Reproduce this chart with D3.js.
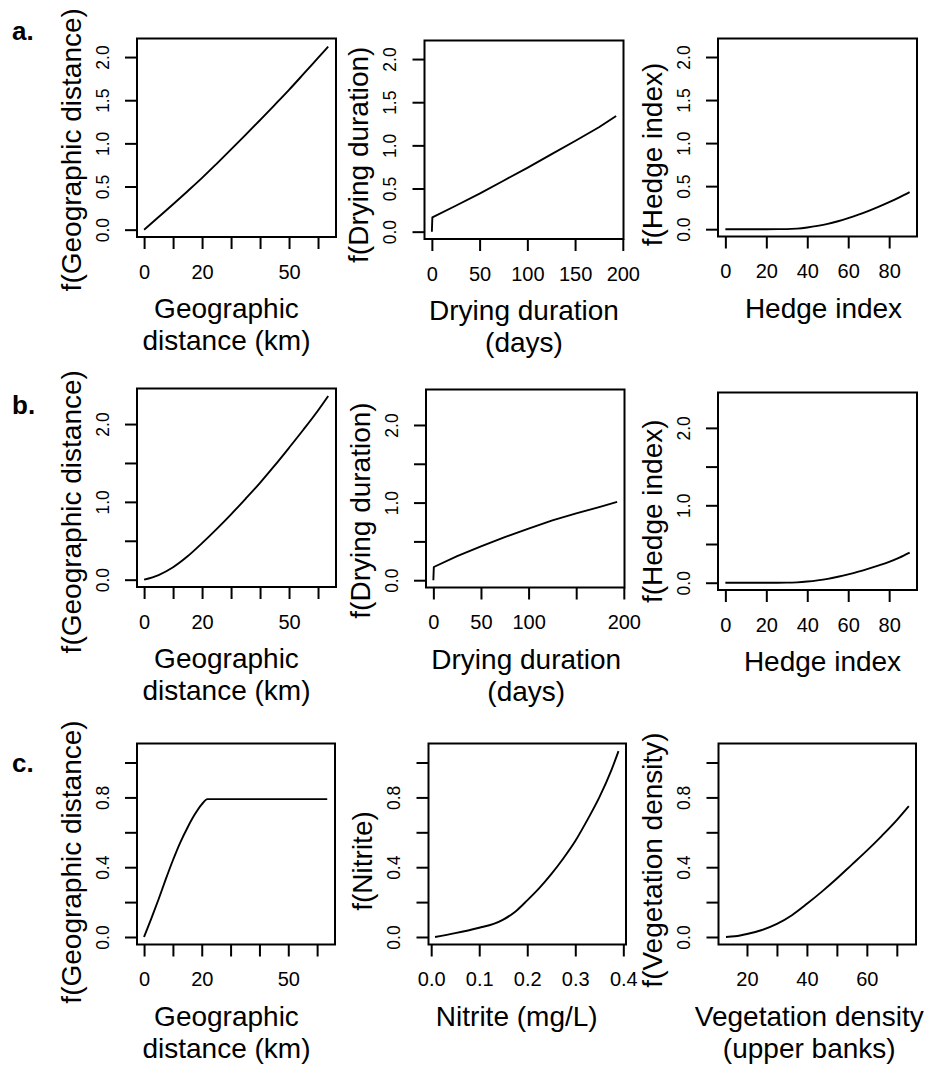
<!DOCTYPE html>
<html>
<head>
<meta charset="utf-8">
<script src="https://cdn.jsdelivr.net/npm/d3@7"></script>
<style>
  html, body { margin: 0; padding: 0; background: #fff; }
  svg text { font-family: "Liberation Sans", Arial, Helvetica, sans-serif; fill: #000; }
</style>
</head>
<body>
<svg id="chart" width="928" height="1072"></svg>
<script>
// ---------------- DATA ----------------
// Row a
const geoA = [[0,0],[5,0.147],[10,0.295],[15,0.446],[20,0.60],[25,0.763],[30,0.93],[35,1.098],[40,1.27],[45,1.444],[50,1.62],[55,1.804],[60,1.99],[63.5,2.12]];
const dryA = [[0,0],[0.5,0.165],[25,0.30],[50,0.44],[75,0.59],[100,0.74],[125,0.895],[150,1.05],[175,1.21],[193,1.34]];
const hedgeA = [[0,0],[10,0],[20,0],[30,0.001],[35,0.007],[40,0.02],[45,0.038],[50,0.061],[55,0.092],[60,0.128],[65,0.168],[70,0.213],[75,0.261],[80,0.313],[85,0.369],[90,0.43]];
// Row b
const geoB = [[0,0],[5,0.06],[10,0.16],[15,0.30],[20,0.47],[25,0.65],[30,0.84],[35,1.04],[40,1.245],[45,1.465],[50,1.695],[55,1.93],[60,2.175],[63.5,2.36]];
const dryB = [[0,0],[0.5,0.17],[25,0.31],[50,0.435],[75,0.555],[100,0.665],[125,0.77],[150,0.86],[175,0.945],[193,1.01]];
const hedgeB = [[0,0],[10,0],[20,0],[30,0.001],[35,0.005],[40,0.015],[45,0.03],[50,0.05],[55,0.077],[60,0.108],[65,0.143],[70,0.182],[75,0.224],[80,0.27],[85,0.325],[90,0.39]];
// Row c
const geoC = [[0,0],[2.5,0.105],[5,0.215],[7.5,0.33],[10,0.44],[12.5,0.54],[15,0.625],[17.5,0.70],[20,0.76],[22,0.79],[30,0.79],[40,0.79],[50,0.79],[63.5,0.79]];
const nitriteC = [[0.008,0],[0.05,0.022],[0.1,0.053],[0.13,0.075],[0.15,0.10],[0.175,0.145],[0.2,0.21],[0.225,0.28],[0.25,0.36],[0.275,0.45],[0.3,0.55],[0.325,0.67],[0.35,0.80],[0.375,0.955],[0.39,1.065]];
const vegC = [[13,0],[16,0.004],[20,0.017],[25,0.04],[30,0.075],[35,0.125],[40,0.19],[45,0.26],[50,0.335],[55,0.415],[60,0.495],[65,0.58],[70,0.67],[74,0.75]];

// Tick values and labels
const geoTicks = [0,10,20,30,40,50,60];
const geoLabels = [0,20,50];
const dryTicks = [0,50,100,150,200];
const dryLabelsA = [0,50,100,150,200];
const dryLabelsB = [0,50,100,200];
const hedgeTicks = [0,20,40,60,80];
const nitriteTicks = [0,0.1,0.2,0.3,0.4];
const vegTicks = [20,30,40,50,60,70];
const vegLabels = [20,40,60];
const yTicksAB = [0,0.5,1,1.5,2];
const yLabelsA = [0,0.5,1,1.5,2];
const yLabelsB = [0,1,2];
const yTicksC = [0,0.2,0.4,0.6,0.8,1.0];
const yLabelsC = [0,0.4,0.8];

// Axis titles
const xTitleGeo = ["Geographic","distance (km)"];
const xTitleDry = ["Drying duration","(days)"];
const xTitleHedge = ["Hedge index"];
const xTitleNitrite = ["Nitrite (mg/L)"];
const xTitleVeg = ["Vegetation density","(upper banks)"];
const rowLetters = ["a.","b.","c."];

// ---------------- LAYOUT ----------------
const domGeo = [-2.45, 66.2], domDry = [-7.72, 200.72], domHedge = [-3.6, 93.6],
      domNit = [-0.0056, 0.4056], domVeg = [10.5, 76.4];
const domYA = [-0.085, 2.215], domYB = [-0.094, 2.457], domYC = [-0.043, 1.109];

const panels = [
  {box:[137,38.5,336,237], xd:domGeo, yd:domYA, data:geoA, curve:d3.curveMonotoneX, xt:geoTicks, xl:geoLabels, xf:d3.format("d"), yt:yTicksAB, yl:yLabelsA, yf:d3.format(".1f"), xtitle:xTitleGeo, ytitle:"f(Geographic distance)", xtc:-10, ytc:12},
  {box:[424.5,40.5,623.5,239], xd:domDry, yd:domYA, data:dryA, curve:d3.curveLinear, xt:dryTicks, xl:dryLabelsA, xf:d3.format("d"), yt:yTicksAB, yl:yLabelsA, yf:d3.format(".1f"), xtitle:xTitleDry, ytitle:"f(Drying duration)", xtc:0, ytc:15},
  {box:[718,38.5,917,236.5], xd:domHedge, yd:domYA, data:hedgeA, curve:d3.curveMonotoneX, xt:hedgeTicks, xl:hedgeTicks, xf:d3.format("d"), yt:yTicksAB, yl:yLabelsA, yf:d3.format(".1f"), xtitle:xTitleHedge, ytitle:"f(Hedge index)", xtc:6, ytc:17},
  {box:[137,388.5,336,587], xd:domGeo, yd:domYB, data:geoB, curve:d3.curveMonotoneX, xt:geoTicks, xl:geoLabels, xf:d3.format("d"), yt:yTicksAB, yl:yLabelsB, yf:d3.format(".1f"), xtitle:xTitleGeo, ytitle:"f(Geographic distance)", xtc:-10, ytc:24},
  {box:[426,389.5,624.5,587.5], xd:domDry, yd:domYB, data:dryB, curve:d3.curveLinear, xt:dryTicks, xl:dryLabelsB, xf:d3.format("d"), yt:yTicksAB, yl:yLabelsB, yf:d3.format(".1f"), xtitle:xTitleDry, ytitle:"f(Drying duration)", xtc:1, ytc:22},
  {box:[718,392.5,917,590], xd:domHedge, yd:domYB, data:hedgeB, curve:d3.curveMonotoneX, xt:hedgeTicks, xl:hedgeTicks, xf:d3.format("d"), yt:yTicksAB, yl:yLabelsB, yf:d3.format(".1f"), xtitle:xTitleHedge, ytitle:"f(Hedge index)", xtc:5, ytc:20},
  {box:[137,743.5,335,944.5], xd:domGeo, yd:domYC, data:geoC, curve:d3.curveMonotoneX, xt:geoTicks, xl:geoLabels, xf:d3.format("d"), yt:yTicksC, yl:yLabelsC, yf:d3.format(".1f"), xtitle:xTitleGeo, ytitle:"f(Geographic distance)", xtc:-9.5, ytc:18},
  {box:[428.5,743.5,626,944.5], xd:domNit, yd:domYC, data:nitriteC, curve:d3.curveMonotoneX, xt:nitriteTicks, xl:nitriteTicks, xf:d3.format(".1f"), yt:yTicksC, yl:yLabelsC, yf:d3.format(".1f"), xtitle:xTitleNitrite, ytitle:"f(Nitrite)", xtc:-10.5, ytc:17},
  {box:[718.5,743.5,916,944.5], xd:domVeg, yd:domYC, data:vegC, curve:d3.curveMonotoneX, xt:vegTicks, xl:vegLabels, xf:d3.format("d"), yt:yTicksC, yl:yLabelsC, yf:d3.format(".1f"), xtitle:xTitleVeg, ytitle:"f(Vegetation density)", xtc:-8, ytc:16}
];
const letterPos = [[12,40],[12,414],[12,772]];

// ---------------- DRAW ----------------
const svg = d3.select("#chart");
const TICK = 12, xTickFont = 20, yTickFont = 17.5, titleFont = 28;

panels.forEach(p => {
  const [x0,y0,x1,y1] = p.box;
  const x = d3.scaleLinear().domain(p.xd).range([x0,x1]);
  const y = d3.scaleLinear().domain(p.yd).range([y1,y0]);
  const g = svg.append("g");

  // x axis ticks
  const xAxis = d3.axisBottom(x).tickValues(p.xt).tickSize(TICK).tickFormat(d => p.xl.some(v => Math.abs(v-d)<1e-9) ? p.xf(d) : "");
  const gx = g.append("g").attr("transform",`translate(0,${y1})`).call(xAxis);
  gx.select(".domain").remove();
  gx.selectAll(".tick line").attr("stroke","#000").attr("stroke-width",2);
  gx.selectAll(".tick text").attr("y", 0).attr("dy", 41.5).attr("font-size", xTickFont).attr("fill","#000")
    .style("font-family","'Liberation Sans', Arial, sans-serif");

  // y axis ticks
  const yAxis = d3.axisLeft(y).tickValues(p.yt).tickSize(TICK).tickFormat(d => p.yl.some(v => Math.abs(v-d)<1e-9) ? p.yf(d) : "");
  const gy = g.append("g").attr("transform",`translate(${x0},0)`).call(yAxis);
  gy.select(".domain").remove();
  gy.selectAll(".tick line").attr("stroke","#000").attr("stroke-width",2);
  gy.selectAll(".tick text")
    .attr("x", null).attr("dy", null)
    .attr("text-anchor","middle")
    .attr("transform","translate(-28.5,0) rotate(-90)")
    .attr("font-size", yTickFont).attr("fill","#000")
    .style("font-family","'Liberation Sans', Arial, sans-serif");

  // box
  g.append("rect").attr("x",x0).attr("y",y0).attr("width",x1-x0).attr("height",y1-y0)
    .attr("fill","none").attr("stroke","#000").attr("stroke-width",2);

  // curve
  const line = d3.line().x(d => x(d[0])).y(d => y(d[1])).curve(p.curve);
  g.append("path").datum(p.data).attr("d", line).attr("fill","none").attr("stroke","#000")
    .attr("stroke-width",1.9).attr("stroke-linejoin","round");

  // x title
  const cx = (x0+x1)/2 + p.xtc;
  p.xtitle.forEach((t,i) => {
    g.append("text").attr("x", cx).attr("y", y1 + 81 + i*32).attr("text-anchor","middle")
      .attr("font-size", titleFont).text(t);
  });

  // y title
  const cy = (y0+y1)/2 + p.ytc;
  g.append("text").attr("transform",`translate(${x0-56.5},${cy}) rotate(-90)`)
    .attr("text-anchor","middle").attr("font-size", titleFont).text(p.ytitle);
});

rowLetters.forEach((t,i) => {
  svg.append("text").attr("x", letterPos[i][0]).attr("y", letterPos[i][1])
    .attr("font-size", 26).attr("font-weight","bold").text(t);
});
</script>
</body>
</html>
